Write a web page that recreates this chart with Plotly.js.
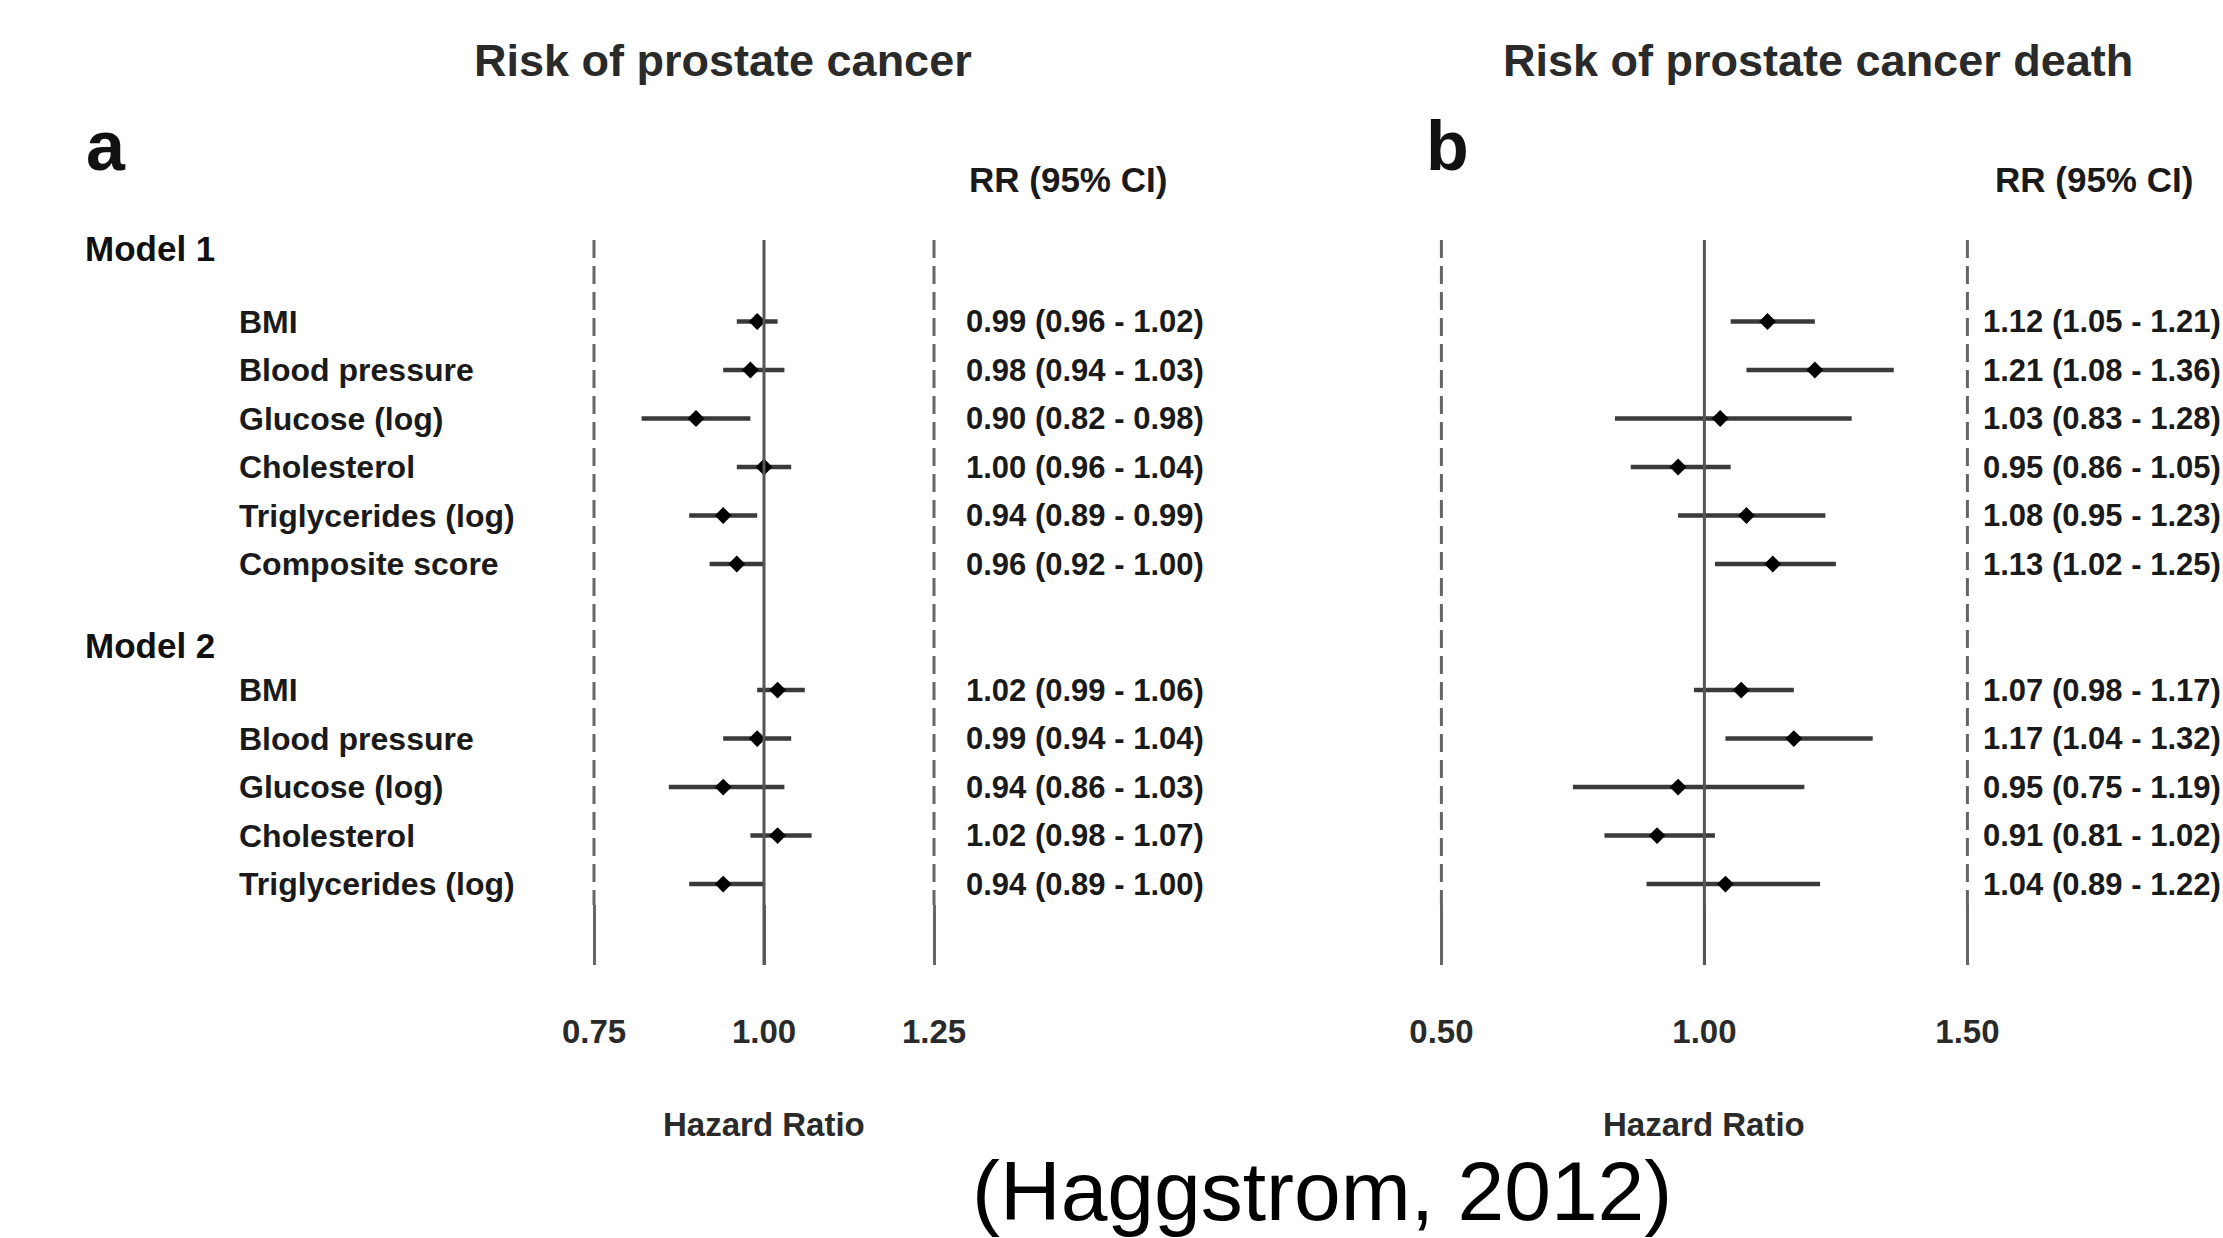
<!DOCTYPE html>
<html>
<head>
<meta charset="utf-8">
<script src="https://cdn.plot.ly/plotly-3.0.1.min.js"></script>
<style>html,body{margin:0;padding:0;background:#fff;}#chart{width:2223px;height:1238px;}</style>
</head>
<body>
<div id="chart"></div>
<script>
// ---------------- data ----------------
const model1Labels = ['BMI', 'Blood pressure', 'Glucose (log)', 'Cholesterol', 'Triglycerides (log)', 'Composite score'];
const model2Labels = ['BMI', 'Blood pressure', 'Glucose (log)', 'Cholesterol', 'Triglycerides (log)'];
const modelNames = ['Model 1', 'Model 2'];

// Panel a: risk of prostate cancer
const aM1RR = [0.99, 0.98, 0.90, 1.00, 0.94, 0.96];
const aM1Lo = [0.96, 0.94, 0.82, 0.96, 0.89, 0.92];
const aM1Hi = [1.02, 1.03, 0.98, 1.04, 0.99, 1.00];
const aM2RR = [1.02, 0.99, 0.94, 1.02, 0.94];
const aM2Lo = [0.99, 0.94, 0.86, 0.98, 0.89];
const aM2Hi = [1.06, 1.04, 1.03, 1.07, 1.00];

// Panel b: risk of prostate cancer death
const bM1RR = [1.12, 1.21, 1.03, 0.95, 1.08, 1.13];
const bM1Lo = [1.05, 1.08, 0.83, 0.86, 0.95, 1.02];
const bM1Hi = [1.21, 1.36, 1.28, 1.05, 1.23, 1.25];
const bM2RR = [1.07, 1.17, 0.95, 0.91, 1.04];
const bM2Lo = [0.98, 1.04, 0.75, 0.81, 0.89];
const bM2Hi = [1.17, 1.32, 1.19, 1.02, 1.22];

const aTicks = [0.75, 1.00, 1.25];
const bTicks = [0.50, 1.00, 1.50];
const aTickText = ['0.75', '1.00', '1.25'];
const bTickText = ['0.50', '1.00', '1.50'];

const panelTitles = ['Risk of prostate cancer', 'Risk of prostate cancer death'];
const panelLetters = ['a', 'b'];
const colHeader = 'RR (95% CI)';
const axisTitle = 'Hazard Ratio';
const source = '(Haggstrom, 2012)';

// ---------------- layout helpers ----------------
const W = 2223, H = 1238;
const px = v => v / W;          // x pixel -> paper
const py = v => 1 - v / H;      // y pixel -> paper
const model2Offset = 7.6;       // row slot of first Model 2 row
const SANS = 'Liberation Sans, Arial, sans-serif';

const yM1 = model1Labels.map((_, i) => i);
const yM2 = model2Labels.map((_, i) => i + model2Offset);

const allRR = (a, b) => a.concat(b);

function forestTrace(rr, lo, hi, ys, xa) {
  return {
    type: 'scatter', mode: 'markers', xaxis: xa, yaxis: 'y',
    x: rr, y: ys,
    marker: {symbol: 'diamond', size: 13, color: '#000'},
    error_x: {
      type: 'data', symmetric: false,
      array: rr.map((v, i) => +(hi[i] - v).toFixed(4)),
      arrayminus: rr.map((v, i) => +(v - lo[i]).toFixed(4)),
      thickness: 4.5, width: 0, color: '#3a3a3a'
    },
    hoverinfo: 'skip', showlegend: false
  };
}

const ysAll = yM1.concat(yM2);
const traces = [
  forestTrace(allRR(aM1RR, aM2RR), allRR(aM1Lo, aM2Lo), allRR(aM1Hi, aM2Hi), ysAll, 'x'),
  forestTrace(allRR(bM1RR, bM2RR), allRR(bM1Lo, bM2Lo), allRR(bM1Hi, bM2Hi), ysAll, 'x2')
];

const fmt = (r, l, h) => r.toFixed(2) + ' (' + l.toFixed(2) + ' - ' + h.toFixed(2) + ')';
const labFont = {family: SANS, size: 32, color: '#1a1a1a', weight: 'bold'};
const rrFont = {family: SANS, size: 31, color: '#1a1a1a', weight: 'bold'};
const modelFont = {family: SANS, size: 35, color: '#111', weight: 'bold'};

const ann = [];
function addText(text, xpx, y, yref, font, xanchor) {
  ann.push({text: text, x: px(xpx), xref: 'paper', y: y, yref: yref,
            xanchor: xanchor || 'left', yanchor: 'middle', showarrow: false, font: font});
}

// row labels
model1Labels.forEach((l, i) => addText(l, 237, yM1[i], 'y', labFont));
model2Labels.forEach((l, i) => addText(l, 237, yM2[i], 'y', labFont));
addText(modelNames[0], 83, py(248), 'paper', modelFont);
addText(modelNames[1], 83, py(645), 'paper', modelFont);

// RR texts
aM1RR.forEach((r, i) => addText(fmt(r, aM1Lo[i], aM1Hi[i]), 964, yM1[i], 'y', rrFont));
aM2RR.forEach((r, i) => addText(fmt(r, aM2Lo[i], aM2Hi[i]), 964, yM2[i], 'y', rrFont));
bM1RR.forEach((r, i) => addText(fmt(r, bM1Lo[i], bM1Hi[i]), 1981, yM1[i], 'y', rrFont));
bM2RR.forEach((r, i) => addText(fmt(r, bM2Lo[i], bM2Hi[i]), 1981, yM2[i], 'y', rrFont));

// headers and titles
const headFont = {family: SANS, size: 35, color: '#1a1a1a', weight: 'bold'};
addText(colHeader, 967, py(180), 'paper', headFont);
addText(colHeader, 1993, py(180), 'paper', headFont);
const titleFont = {family: SANS, size: 45, color: '#2a2a2a', weight: 'bold'};
addText(panelTitles[0], 723, py(61), 'paper', titleFont, 'center');
addText(panelTitles[1], 1818, py(61), 'paper', titleFont, 'center');
const letterFont = {family: SANS, size: 70, color: '#111', weight: 'bold'};
addText(panelLetters[0], 84, py(146), 'paper', letterFont);
addText(panelLetters[1], 1424, py(146), 'paper', letterFont);
const axFont = {family: SANS, size: 33, color: '#2a2a2a', weight: 'bold'};
addText(axisTitle, 764, py(1124), 'paper', axFont, 'center');
addText(axisTitle, 1704, py(1124), 'paper', axFont, 'center');
addText(source, 1322, py(1191), 'paper', {family: SANS, size: 84, color: '#000'}, 'center');

// reference lines (dashed) at tick values, solid at 1.00
const shapes = [];
function refLines(ticks, xref) {
  ticks.forEach(t => {
    const solid = Math.abs(t - 1) < 1e-9;
    shapes.push({type: 'line', xref: xref, yref: 'paper', x0: t, x1: t,
                 y0: py(240), y1: solid ? py(965) : py(905),
                 line: {color: solid ? '#555' : '#666', width: 3, dash: solid ? 'solid' : '18px,8px'}});
  });
}
refLines(aTicks, 'x');
refLines(bTicks, 'x2');

function xAxis(range, domain, ticks, ticktext) {
  return {
    range: range, domain: domain, anchor: 'free', position: py(965),
    showgrid: false, zeroline: false, showline: false,
    tickmode: 'array', tickvals: ticks, ticktext: ticktext,
    ticks: 'inside', ticklen: 60, tickwidth: 3, tickcolor: '#666',
    ticklabelstandoff: 44,
    tickfont: {family: SANS, size: 33, color: '#2a2a2a', weight: 'bold'},
    fixedrange: true
  };
}

const layout = {
  width: W, height: H,
  margin: {l: 0, r: 0, t: 0, b: 0},
  paper_bgcolor: '#fff', plot_bgcolor: 'rgba(0,0,0,0)',
  showlegend: false,
  xaxis: xAxis([0.70, 1.30], [px(560), px(968)], aTicks, aTickText),
  xaxis2: xAxis([0.40, 1.60], [px(1388.8), px(2020)], bTicks, bTickText),
  yaxis: {range: [(H - 321.5) / 48.5, -321.5 / 48.5], domain: [0, 1], visible: false, fixedrange: true},
  shapes: shapes,
  annotations: ann
};

Plotly.newPlot('chart', traces, layout, {staticPlot: true, displayModeBar: false});
</script>
</body>
</html>
